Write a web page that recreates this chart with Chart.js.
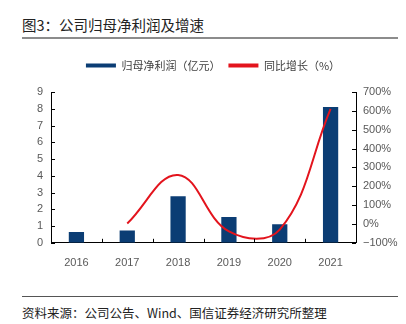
<!DOCTYPE html>
<html lang="zh">
<head>
    <meta charset="UTF-8">
    <title>图3：公司归母净利润及增速</title>
    <script src="https://cdn.jsdelivr.net/npm/chart.js"></script>
    <style>
        body {
            margin: 0;
            width: 406px;
            height: 324px;
            background: #fff;
            font-family: "Noto Sans CJK SC", sans-serif;
            position: relative;
            overflow: hidden;
        }
        .title {
            position: absolute;
            left: 22px; top: 14px;
            font-size: 14.5px;
            color: #222;
        }
        .rule {
            position: absolute;
            left: 22px; width: 376px;
            height: 2px;
            background: #8c8c8c;
        }
        .source {
            position: absolute;
            left: 22px; top: 303px;
            font-size: 12.5px;
            color: #222;
        }
        #wrap {
            position: absolute;
            left: 0; top: 44px;
            width: 406px; height: 232px;
        }
    </style>
</head>
<body>
    <div class="title">图3：公司归母净利润及增速</div>
    <div class="rule" style="top:37px"></div>
    <div id="wrap"><canvas id="profitChart"></canvas></div>
    <div class="rule" style="top:296px;height:1px;background:#555"></div>
    <div class="source">资料来源：公司公告、Wind、国信证券经济研究所整理</div>

    <script>
        const years = ['2016', '2017', '2018', '2019', '2020', '2021'];
        const netProfit = [0.65, 0.73, 2.78, 1.54, 1.1, 8.1];      // 亿元
        const growthPct = [null, 2, 260, -40, -30, 610];           // %

        const BAR_COLOR = '#0b3d74';
        const LINE_COLOR = '#e3141d';
        const TICK_COLOR = '#595959';
        const tickFont = { family: '"Liberation Sans"', size: 11 };

        // short tick marks drawn inside the plot area, like the original
        const innerTicks = {
            id: 'innerTicks',
            afterDraw(chart) {
                const ctx = chart.ctx;
                const area = chart.chartArea;
                const { x, y, y1 } = chart.scales;
                ctx.save();
                ctx.strokeStyle = '#000';
                ctx.lineWidth = 1;
                ctx.beginPath();
                y.ticks.forEach(t => {
                    const py = Math.round(y.getPixelForValue(t.value)) + 0.5;
                    ctx.moveTo(area.left, py); ctx.lineTo(area.left + 4, py);
                });
                y1.ticks.forEach(t => {
                    const py = Math.round(y1.getPixelForValue(t.value)) + 0.5;
                    ctx.moveTo(area.right, py); ctx.lineTo(area.right - 4, py);
                });
                for (let i = 1; i < years.length; i++) {
                    const px = Math.round((x.getPixelForValue(i - 1) + x.getPixelForValue(i)) / 2) + 0.5;
                    ctx.moveTo(px, area.bottom); ctx.lineTo(px, area.bottom - 4);
                }
                ctx.stroke();
                ctx.restore();
            }
        };

        // more room under the legend, and nudge it a bit to the right
        const legendSpace = {
            id: 'legendSpace',
            beforeInit(chart) {
                const fit = chart.legend.fit;
                chart.legend.fit = function () {
                    fit.bind(chart.legend)();
                    this.height += 11;
                };
            },
            afterLayout(chart) {
                chart.legend.left += 20;
                chart.legend.width -= 20;
            }
        };

        const axisBorder = { display: true, color: '#000', width: 1 };

        new Chart(document.getElementById('profitChart'), {
            data: {
                labels: years,
                datasets: [
                    {
                        type: 'line',
                        label: '同比增长（%）',
                        data: growthPct,
                        yAxisID: 'y1',
                        borderColor: LINE_COLOR,
                        backgroundColor: LINE_COLOR,
                        borderWidth: 2,
                        pointRadius: 0,
                        tension: 0.4,
                        order: 0
                    },
                    {
                        type: 'bar',
                        label: '归母净利润（亿元）',
                        data: netProfit,
                        yAxisID: 'y',
                        backgroundColor: BAR_COLOR,
                        barPercentage: 0.3,
                        categoryPercentage: 1,
                        order: 1
                    }
                ]
            },
            options: {
                responsive: true,
                maintainAspectRatio: false,
                animation: false,
                layout: { padding: { top: 8, bottom: 0, left: 0, right: 0 } },
                plugins: {
                    tooltip: { enabled: false },
                    legend: {
                        reverse: true,
                        labels: {
                            boxWidth: 30,
                            boxHeight: 4,
                            padding: 8,
                            color: '#404040',
                            font: { family: '"Noto Sans CJK SC"', size: 11 },
                            generateLabels(chart) {
                                return chart.data.datasets.map((ds, i) => ({
                                    text: ds.label,
                                    fillStyle: ds.type === 'bar' ? BAR_COLOR : LINE_COLOR,
                                    strokeStyle: ds.type === 'bar' ? BAR_COLOR : LINE_COLOR,
                                    lineWidth: 0,
                                    fontColor: '#404040',
                                    datasetIndex: i
                                }));
                            }
                        }
                    }
                },
                scales: {
                    x: {
                        grid: { display: false },
                        border: axisBorder,
                        ticks: { color: TICK_COLOR, font: tickFont, padding: 6 }
                    },
                    y: {
                        position: 'left',
                        min: 0, max: 9,
                        grid: { display: false, drawTicks: false },
                        border: axisBorder,
                        ticks: { stepSize: 1, color: TICK_COLOR, font: tickFont, padding: 8 },
                        afterFit(s) { s.width = 51; }
                    },
                    y1: {
                        position: 'right',
                        min: -100, max: 700,
                        grid: { display: false, drawTicks: false },
                        border: axisBorder,
                        ticks: {
                            stepSize: 100,
                            color: TICK_COLOR,
                            font: tickFont,
                            padding: 7,
                            callback: v => (v < 0 ? '\u2212' + Math.abs(v) : v) + '%'
                        },
                        afterFit(s) { s.width = 50; }
                    }
                }
            },
            plugins: [innerTicks, legendSpace]
        });
    </script>
</body>
</html>
